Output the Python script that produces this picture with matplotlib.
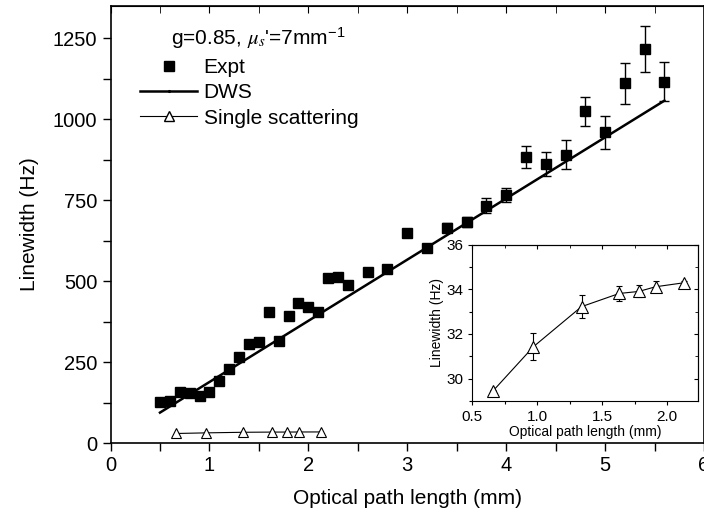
import numpy as np
import matplotlib
matplotlib.use("Agg")
import matplotlib.pyplot as plt
from matplotlib.ticker import MultipleLocator
from matplotlib.lines import Line2D

plt.rcParams['font.family'] = ['Liberation Sans', 'DejaVu Sans']
plt.rcParams['mathtext.fontset'] = 'stix'

# --- DATA ---
expt_x = [0.5, 0.6, 0.7, 0.8, 0.9, 1.0, 1.1, 1.2, 1.3, 1.4, 1.5, 1.6, 1.7, 1.8, 1.9,
          2.0, 2.1, 2.2, 2.3, 2.4, 2.6, 2.8, 3.0, 3.2, 3.4, 3.6, 3.8, 4.0, 4.2, 4.4,
          4.6, 4.8, 5.0, 5.2, 5.4, 5.6]
expt_y = [127, 129, 158, 153, 145, 159, 193, 230, 266, 307, 311, 403, 315, 392, 431,
          420, 405, 509, 512, 488, 527, 537, 648, 601, 665, 683, 733, 766, 883, 861,
          890, 1024, 960, 1110, 1215, 1116]
expt_err = [5, 5, 5, 5, 5, 6, 6, 6, 7, 7, 7, 8, 8, 8, 8,
            9, 9, 9, 9, 10, 10, 10, 11, 11, 13, 15, 23, 22, 34, 36,
            45, 44, 51, 64, 71, 60]

dws_x = [0.5, 5.6]
dws_y = [94, 1057]

ss_x = [0.66, 0.97, 1.34, 1.63, 1.78, 1.91, 2.13]
ss_y = [29.46, 31.43, 33.22, 33.81, 33.90, 34.11, 34.29]
ss_err = [0.05, 0.6, 0.5, 0.35, 0.27, 0.25, 0.1]

# --- FIGURE ---
fig = plt.figure(figsize=(7.04, 5.2), dpi=100)
ax = fig.add_axes([0.157, 0.148, 0.843, 0.841])

ax.errorbar(expt_x, expt_y, yerr=expt_err, fmt='s', color='black', ms=7,
            ecolor='black', elinewidth=1, capsize=3.5, capthick=1, zorder=3)
ax.plot(dws_x, dws_y, color='black', lw=1.8, zorder=2)
ax.plot(ss_x, ss_y, color='black', lw=0.8, marker='^', ms=7.5,
        mfc='white', mec='black', mew=0.8, zorder=3)

ax.set_xlim(0, 6)
ax.set_ylim(0, 1350)
ax.xaxis.set_major_locator(MultipleLocator(1))
ax.xaxis.set_minor_locator(MultipleLocator(0.5))
ax.yaxis.set_major_locator(MultipleLocator(250))
ax.yaxis.set_minor_locator(MultipleLocator(125))
ax.tick_params(which='major', direction='out', length=6, width=1, labelsize=14.5)
ax.tick_params(which='minor', direction='out', length=6, width=1)
for s in ax.spines.values():
    s.set_linewidth(1.2)

top = ax.secondary_xaxis('top')
top.xaxis.set_major_locator(MultipleLocator(1))
top.xaxis.set_minor_locator(MultipleLocator(0.5))
top.tick_params(which='both', direction='in', length=5, labeltop=False)

ax.set_xlabel('Optical path length (mm)', fontsize=15, labelpad=10)
ax.set_ylabel('Linewidth (Hz)', fontsize=15, labelpad=10)

# legend
handles = [
    Line2D([], [], ls='none', marker='s', color='black', ms=7),
    Line2D([], [], color='black', lw=1.8, marker='.', ms=2.5),
    Line2D([], [], color='black', lw=0.8, marker='^', ms=7.5, mfc='white', mec='black'),
]
labels = ['Expt', 'DWS', 'Single scattering']
leg = ax.legend(handles, labels, loc='upper left', bbox_to_anchor=(0.05, 0.88),
                frameon=False, fontsize=15, handlelength=2.75, handletextpad=0.3,
                labelspacing=0.3, borderaxespad=0, borderpad=0)
ax.text(0.102, 0.955, r"g=0.85, $\mu_s$'=7mm$^{\mathregular{-1}}$", transform=ax.transAxes,
        fontsize=15, va='top', ha='left')

# --- INSET ---
ins = fig.add_axes([0.671, 0.2288, 0.320, 0.301])
ins.errorbar(ss_x, ss_y, yerr=ss_err, color='black', lw=0.8, marker='^', ms=8,
             mfc='white', mec='black', mew=0.8, ecolor='black', elinewidth=0.8,
             capsize=2.5, capthick=0.8)
ins.set_xlim(0.5, 2.234)
ins.set_ylim(29, 36)
ins.xaxis.set_major_locator(MultipleLocator(0.5))
ins.xaxis.set_minor_locator(MultipleLocator(0.25))
ins.yaxis.set_major_locator(MultipleLocator(2))
ins.yaxis.set_minor_locator(MultipleLocator(1))
ins.tick_params(which='major', direction='out', length=3, width=0.8, labelsize=11)
ins.tick_params(which='minor', direction='out', length=2, width=0.8)
for s in ins.spines.values():
    s.set_linewidth(0.8)
itop = ins.secondary_xaxis('top')
itop.xaxis.set_major_locator(MultipleLocator(0.5))
itop.xaxis.set_minor_locator(MultipleLocator(0.25))
itop.tick_params(which='major', direction='in', length=3, labeltop=False)
itop.tick_params(which='minor', direction='in', length=2)
iright = ins.secondary_yaxis('right')
iright.yaxis.set_major_locator(MultipleLocator(2))
iright.yaxis.set_minor_locator(MultipleLocator(1))
iright.tick_params(which='major', direction='in', length=3, labelright=False)
iright.tick_params(which='minor', direction='in', length=2)
ins.set_xlabel('Optical path length (mm)', fontsize=10, labelpad=1)
ins.set_ylabel('Linewidth (Hz)', fontsize=10, labelpad=2)

fig.savefig('out.png', dpi=100)
